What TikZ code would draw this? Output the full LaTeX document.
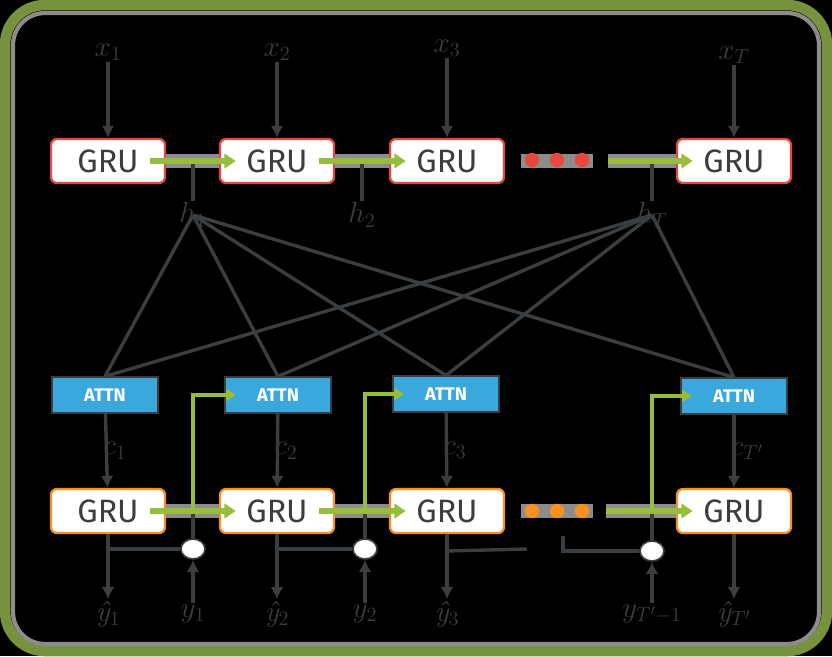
\documentclass[tikz,border=0pt]{standalone}
\usepackage{fontspec}
\setsansfont{Fira Sans}
\usetikzlibrary{arrows.meta, positioning, shapes.geometric}

\definecolor{wiregray}{HTML}{3B3E40}
\definecolor{halo}{HTML}{8C8C8C}
\definecolor{framegreen}{HTML}{76923C}
\definecolor{flowgreen}{HTML}{96BE3C}
\definecolor{encred}{HTML}{E8483B}
\definecolor{decorange}{HTML}{F7901E}
\definecolor{attnblue}{HTML}{3AA8DC}

\newcommand{\yhat}[1]{{\itshape ŷ}$_{#1}$}

\begin{document}
\begin{tikzpicture}[x=0.025cm, y=-0.025cm,
    gru/.style={draw, fill=white, rounded corners=0.15cm, line width=1.6pt,
        minimum width=2.85cm, minimum height=1.1cm, text=wiregray,
        font=\sffamily\fontsize{23}{26}\selectfont},
    enc/.style={gru, draw=encred},
    dec/.style={gru, draw=decorange},
    attn/.style={draw=wiregray, fill=attnblue, line width=1.4pt,
        minimum width=2.65cm, minimum height=0.88cm, text=white,
        font=\sffamily\bfseries\fontsize{13}{15}\selectfont},
    lbl/.style={text=wiregray, font=\fontsize{21}{24}\selectfont, inner sep=1pt},
    wire/.style={color=wiregray, line width=2.4pt},
    band/.style={color=halo, line width=10pt},
    flow/.style={color=flowgreen, line width=4.5pt, -{Triangle[length=0.28cm, width=0.36cm]}},
    feed/.style={color=flowgreen, line width=2.2pt, -{Triangle[length=0.25cm, width=0.3cm]}},
    switch/.style={ellipse, draw=wiregray, fill=white, line width=1.2pt,
        minimum width=0.6cm, minimum height=0.5cm, inner sep=0pt}
]
\useasboundingbox (0,0) rectangle (832,656);
\fill[black] (0,0) rectangle (832,656);
\draw[framegreen, line width=7.5pt, rounded corners=1cm] (5,5) rectangle (827,651);
\draw[halo, line width=3pt, rounded corners=0.8cm] (13,13) rectangle (819,644);

% encoder
\node (x1) [lbl] at (108,52) {$x_1$};
\node (x2) [lbl] at (277,52) {$x_2$};
\node (x3) [lbl] at (447,48) {$x_3$};
\node (xT) [lbl] at (734,55) {$x_T$};

\node (e1) [enc] at (108,161) {GRU};
\node (e2) [enc] at (277,161) {GRU};
\node (e3) [enc] at (447,161) {GRU};
\node (e4) [enc] at (734,161) {GRU};

\node (h1) [lbl] at (193,215) {$h_1$};
\node (h2) [lbl] at (362,215) {$h_2$};
\node (hT) [lbl] at (652,215) {$h_T$};

% attention
\node (a1) [attn] at (105,395) {ATTN};
\node (a2) [attn] at (278,395) {ATTN};
\node (a3) [attn] at (446,394) {ATTN};
\node (a4) [attn] at (734,396) {ATTN};

% decoder
\node (d1) [dec] at (108,511) {GRU};
\node (d2) [dec] at (277,511) {GRU};
\node (d3) [dec] at (447,511) {GRU};
\node (d4) [dec] at (734,511) {GRU};

\node (s1) [switch] at (193,549) {};
\node (s2) [switch] at (365,549) {};
\node (s3) [switch] at (652,551) {};

\node (o1) [lbl] at (108,614) {\yhat{1}};
\node (t1) [lbl] at (193,614) {$y_1$};
\node (o2) [lbl] at (277,614) {\yhat{2}};
\node (t2) [lbl] at (365,614) {$y_2$};
\node (o3) [lbl] at (447,614) {\yhat{3}};
\node (t3) [lbl] at (652,614) {$y_{T'-1}$};
\node (o4) [lbl] at (734,614) {\yhat{T'}};

\coordinate (encgap) at (608,161);
\coordinate (decgap) at (606,511);
\coordinate (stubA) at (527,549);
\coordinate (stubB) at (563,536);

% grey bands behind the flow arrows
\path [band]
    (e1.east) edge (e2.west)
    (e2.east) edge (e3.west)
    (521,161) edge (593,161)
    (encgap) edge (e4.west)
    (d1.east) edge (d2.west)
    (d2.east) edge (d3.west)
    (521,511) edge (593,511)
    (decgap) edge (d4.west);

\foreach \x in {532,557,582} {
    \fill[encred] (\x,160) circle [radius=0.18cm];
    \fill[decorange] (\x,511) circle [radius=0.18cm];
}

\path [wire, -{Latex[length=0.3cm, width=0.32cm]}]
    (x1) edge (e1)
    (x2) edge (e2)
    (x3) edge (e3)
    (xT) edge (e4);

% hidden states
\path [wire]
    (h1 |- e1.east) edge (h1.north)
    (h2 |- e2.east) edge (h2.north)
    (hT |- e4.west) edge (hT.north);
\foreach \a in {a1,a2,a3,a4} {
    \draw [wire] (h1.center) -- (\a.north);
    \draw [wire] (hT.center) -- (\a.north);
}

% context vectors
\path [wire, -{Latex[length=0.3cm, width=0.32cm]}]
    (a1) edge node [lbl, right=-0.15cm] {$c_1$} (d1)
    (a2) edge node [lbl, right=-0.15cm] {$c_2$} (d2)
    (a3) edge node [lbl, right=-0.15cm] {$c_3$} (d3)
    (a4) edge node [lbl, right=-0.15cm] {$c_{T'}$} (d4);

% outputs and switches
\path [wire, -{Latex[length=0.3cm, width=0.32cm]}]
    (d1) edge (o1)
    (d2) edge (o2)
    (d3) edge (o3)
    (d4) edge (o4)
    (t1) edge (s1)
    (t2) edge (s2)
    (t3) edge (s3);
\path [wire]
    (s1 -| d1) edge (s1)
    (s2 -| d2) edge (s2)
    (s1.north) edge (s1 |- d1.east)
    (s2.north) edge (s2 |- d2.east)
    (s3.north) edge (s3 |- d4.west)
    (s3 -| d3) edge (stubA);
\draw [wire] (stubB) |- (s3.west);

% recurrent flow
\path [flow]
    ([xshift=-0.4cm]e1.east) edge ([xshift=0.42cm]e2.west)
    ([xshift=-0.4cm]e2.east) edge ([xshift=0.42cm]e3.west)
    (encgap) edge ([xshift=0.42cm]e4.west)
    ([xshift=-0.4cm]d1.east) edge ([xshift=0.42cm]d2.west)
    ([xshift=-0.4cm]d2.east) edge ([xshift=0.42cm]d3.west)
    (decgap) edge ([xshift=0.42cm]d4.west);

\draw [feed] (s1 |- d1.east) |- ([xshift=0.3cm]a2.west);
\draw [feed] (s2 |- d2.east) |- ([xshift=0.3cm]a3.west);
\draw [feed] (s3 |- d4.west) |- ([xshift=0.3cm]a4.west);

\end{tikzpicture}
\end{document}
